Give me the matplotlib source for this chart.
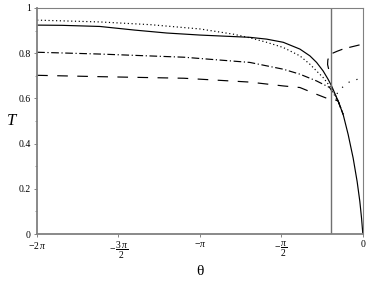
import numpy as np
import matplotlib.pyplot as plt

plt.rcParams['font.family'] = ['Liberation Serif', 'DejaVu Serif']
plt.rcParams['mathtext.fontset'] = 'custom'
plt.rcParams['mathtext.rm'] = 'Liberation Serif'
plt.rcParams['mathtext.it'] = 'Liberation Serif:italic'

# solid curve
solid_theta = [-6.28, -5.8, -5.07, -4.4, -3.78, -3.14, -2.18, -1.855, -1.535,
               -1.214, -1.021, -0.892, -0.765, -0.669, -0.603, -0.476, -0.38,
               -0.283, -0.187, -0.11, -0.058, -0.025, 0.0]
solid_T = [0.924, 0.923, 0.918, 0.902, 0.889, 0.880, 0.870, 0.862, 0.848,
           0.818, 0.788, 0.759, 0.721, 0.684, 0.655, 0.588, 0.529,
           0.44, 0.336, 0.232, 0.144, 0.07, 0.0]

# dotted curve (main part and right branch)
dot_theta = [-6.28, -5.07, -4.10, -3.14, -2.5, -2.18, -1.855, -1.535, -1.214,
             -1.021, -0.892, -0.765, -0.64, -0.54, -0.476, -0.38]
dot_T = [0.946, 0.938, 0.926, 0.907, 0.884, 0.868, 0.848, 0.825, 0.788,
         0.751, 0.721, 0.692, 0.655, 0.62, 0.588, 0.529]
dot2_theta = [-0.50, -0.443, -0.264, -0.058, 0.0]
dot2_T = [0.62, 0.64, 0.672, 0.688, 0.69]

# dash-dot curve
dd_theta = [-6.28, -5.07, -3.45, -2.18, -1.535, -1.214, -0.892, -0.64,
            -0.476, -0.38]
dd_T = [0.804, 0.796, 0.782, 0.759, 0.729, 0.707, 0.677, 0.648,
        0.588, 0.529]

# dashed curve (main part and right branch)
dash_theta = [-6.28, -5.07, -3.45, -2.18, -1.535, -1.214, -0.892, -0.669,
              -0.60, -0.476, -0.38]
dash_T = [0.702, 0.696, 0.689, 0.672, 0.655, 0.648, 0.618, 0.598,
          0.60, 0.588, 0.529]
dash2_theta = [-0.66, -0.68, -0.675, -0.65, -0.60, -0.50, -0.385, -0.25, 0.0]
dash2_T = [0.73, 0.75, 0.77, 0.787, 0.798, 0.808, 0.818, 0.826, 0.84]

asymptote = -0.62

xtick_pos = [-2 * np.pi, -1.5 * np.pi, -np.pi, -0.5 * np.pi, 0]
xtick_lab = [r'$-2\,\pi$', r'$-\,\dfrac{3\,\pi}{2}$', r'$-\pi$',
             r'$-\,\dfrac{\pi}{2}$', '0']
ytick_pos = [0, 0.2, 0.4, 0.6, 0.8, 1]
ytick_lab = ['0', '0.2', '0.4', '0.6', '0.8', '1']

fig = plt.figure(figsize=(3.68, 2.83), dpi=100)
ax = fig.add_axes([0.1005, 0.173, 0.8855, 0.799])

lw = 0.85
ax.plot(solid_theta, solid_T, color='black', lw=lw)
ax.plot(dot_theta, dot_T, color='black', lw=lw, ls=(0, (1, 2.2)))
ax.plot(dot2_theta, dot2_T, color='black', lw=lw, ls=(0, (1, 6)))
ax.plot(dd_theta, dd_T, color='black', lw=lw, ls=(0, (6.5, 2.2, 1, 2.2)))
ax.plot(dash_theta, dash_T, color='black', lw=lw, ls=(0, (9, 8)))
ax.plot(dash2_theta, dash2_T, color='black', lw=lw, ls=(0, (9, 6)))
ax.axvline(asymptote, color='#707070', lw=1.0)

ax.set_xlim(-2 * np.pi, 0)
ax.set_ylim(0, 1)
ax.set_xticks(xtick_pos)
ax.set_xticklabels(xtick_lab, fontsize=7)
ax.set_yticks(ytick_pos)
ax.set_yticklabels(ytick_lab, fontsize=7)
ax.set_yticks(np.arange(0.1, 1.0, 0.2), minor=True)
ax.tick_params(length=2.5, width=0.6, color='#707070', pad=2)
ax.tick_params(which='minor', length=1.5, width=0.5, color='#707070')

for s in ax.spines.values():
    s.set_color('#808080')
    s.set_linewidth(0.8)
ax.spines['left'].set_linewidth(1.3)
ax.spines['bottom'].set_linewidth(1.3)

ax.set_xlabel('θ', fontsize=11, labelpad=3)
ax.set_ylabel('T', fontsize=12, style='italic', rotation=0, labelpad=5,
              va='center')

fig.savefig('out.png', dpi=100)
